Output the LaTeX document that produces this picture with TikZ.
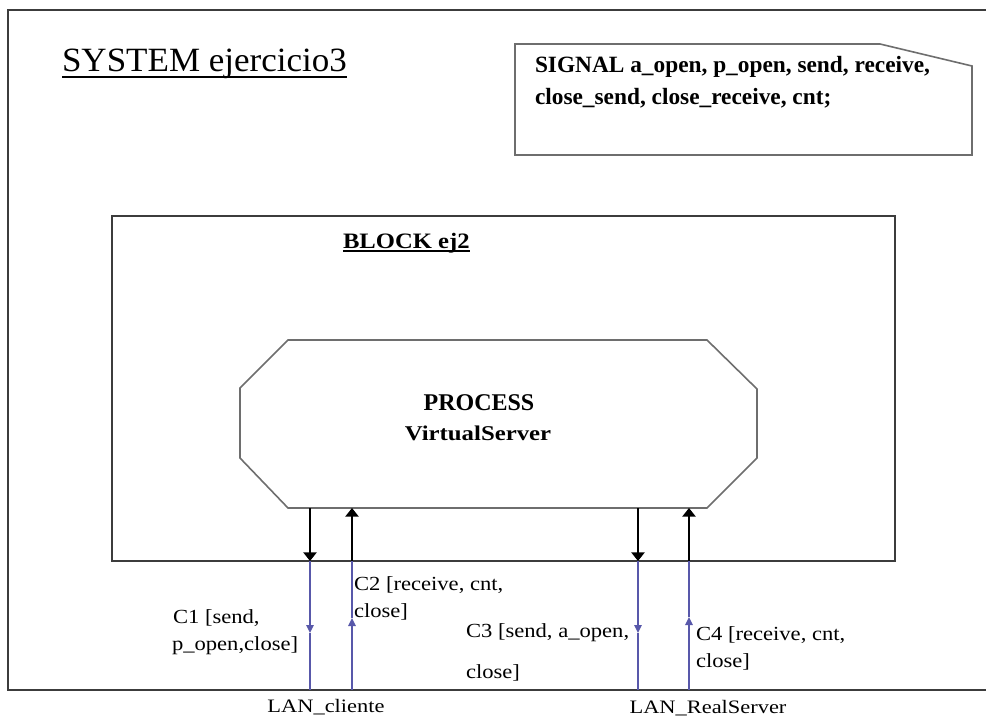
\documentclass[tikz,border=0pt]{standalone}
\usepackage{fontspec}
\setmainfont{Liberation Serif}
\newfontfamily\sysfont[FakeStretch=1.03]{Liberation Serif}
\newfontfamily\lblfont[FakeStretch=1.13]{Liberation Serif}
\newfontfamily\lanfont[FakeStretch=1.18]{Liberation Serif}
\newfontfamily\blkfont[FakeStretch=1.12]{Liberation Serif}
\newfontfamily\vsfont[FakeStretch=1.18]{Liberation Serif}
\usetikzlibrary{arrows.meta,calc}
\definecolor{chblue}{RGB}{88,88,170}
\definecolor{framegray}{RGB}{60,60,60}
\definecolor{shapegray}{RGB}{110,110,110}
\tikzset{
  frame/.style={draw=framegray, line width=1.4pt},
  shapeline/.style={draw=shapegray, line width=1.2pt, line join=miter},
  txt/.style={anchor=base west, inner sep=0pt, outer sep=0pt},
  ctxt/.style={anchor=base, inner sep=0pt, outer sep=0pt},
  lbl/.style={txt, font=\lblfont\fontsize{15pt}{18pt}\selectfont},
  lan/.style={ctxt, font=\lanfont\fontsize{14.25pt}{17pt}\selectfont},
  sig/.style={txt, font=\bfseries\fontsize{17.5pt}{20pt}\selectfont},
  inner/.style={draw=black, line width=1.1pt},
  outer/.style={draw=chblue, line width=1.5pt},
  bigtip/.style={-{Triangle[length=6.5pt,width=10pt]}},
  smalltip/.style={-{Triangle[length=6pt,width=5.5pt]}}
}
\begin{document}
\begin{tikzpicture}[x=0.75pt,y=-0.75pt]
\useasboundingbox (0,0) rectangle (986,717);
\fill[white] (0,0) rectangle (986,717);

% system frame (right side runs off the picture)
\coordinate (sysTR) at (990,10);
\coordinate (sysTL) at (8,10);
\coordinate (sysBL) at (8,690);
\coordinate (sysBR) at (990,690);
\draw[frame] (sysTR) -- (sysTL) -- (sysBL) -- (sysBR);

% title
\node[txt, font=\sysfont\fontsize{25.5pt}{30pt}\selectfont] (sys) at (62,72) {SYSTEM ejercicio3};
\draw[line width=1pt] ($(sys.base west)+(0,5)$) -- ($(sys.base east)+(0,5)$);

% signal comment box
\coordinate (sg1) at (515,44);
\coordinate (sg2) at (880,44);
\coordinate (sg3) at (972,66);
\coordinate (sg4) at (972,155);
\coordinate (sg5) at (515,155);
\draw[shapeline] (sg1) -- (sg2) -- (sg3) -- (sg4) -- (sg5) -- cycle;
\node[sig] (sigA) at (535,73) {SIGNAL a\_open, p\_open, send, receive,};
\node[sig] (sigB) at (535,104) {close\_send, close\_receive, cnt;};

% block
\coordinate (blkTL) at (112,216);
\coordinate (blkBR) at (895,561);
\draw[frame] (blkTL) rectangle (blkBR);
\node[txt, font=\blkfont\bfseries\fontsize{16.5pt}{20pt}\selectfont] (blk) at (343,248) {BLOCK ej2};
\draw[line width=1pt] ($(blk.base west)+(0,3)$) -- ($(blk.base east)+(0,3)$);

% process octagon
\coordinate (o1) at (288,340);
\coordinate (o2) at (707,340);
\coordinate (o3) at (757,389);
\coordinate (o4) at (757,458);
\coordinate (o5) at (707,508);
\coordinate (o6) at (288,508);
\coordinate (o7) at (240,458);
\coordinate (o8) at (240,388);
\draw[shapeline] (o1) -- (o2) -- (o3) -- (o4) -- (o5) -- (o6) -- (o7) -- (o8) -- cycle;
\node[ctxt, font=\bfseries\fontsize{18pt}{21pt}\selectfont] (p1) at (479,410) {PROCESS};
\node[ctxt, font=\vsfont\bfseries\fontsize{15.75pt}{19pt}\selectfont] (p2) at (478,440) {VirtualServer};

% channel C1 (down)
\coordinate (c1a) at (310,508);
\coordinate (c1b) at (310,561);
\coordinate (c1m) at (310,633);
\coordinate (c1c) at (310,690);
\draw[inner, bigtip] (c1a) -- (c1b);
\draw[outer, smalltip] (c1b) -- (c1m);
\draw[outer] (c1m) -- (c1c);

% channel C2 (up)
\coordinate (c2a) at (352,508);
\coordinate (c2b) at (352,561);
\coordinate (c2m) at (352,618);
\coordinate (c2c) at (352,690);
\draw[outer, smalltip] (c2c) -- (c2m);
\draw[outer] (c2m) -- (c2b);
\draw[inner, bigtip] (c2b) -- (c2a);

% channel C3 (down)
\coordinate (c3a) at (638,508);
\coordinate (c3b) at (638,561);
\coordinate (c3m) at (638,633);
\coordinate (c3c) at (638,690);
\draw[inner, bigtip] (c3a) -- (c3b);
\draw[outer, smalltip] (c3b) -- (c3m);
\draw[outer] (c3m) -- (c3c);

% channel C4 (up)
\coordinate (c4a) at (689,508);
\coordinate (c4b) at (689,561);
\coordinate (c4m) at (689,617);
\coordinate (c4c) at (689,690);
\draw[outer, smalltip] (c4c) -- (c4m);
\draw[outer] (c4m) -- (c4b);
\draw[inner, bigtip] (c4b) -- (c4a);

% channel labels
\node[lbl] (l1a) at (173,623) {C1 [send,};
\node[lbl] (l1b) at (172,650) {p\_open,close]};
\node[lbl] (l2a) at (354,590) {C2 [receive, cnt,};
\node[lbl] (l2b) at (354,617) {close]};
\node[lbl] (l3a) at (466,637) {C3 [send, a\_open,};
\node[lbl] (l3b) at (466,678) {close]};
\node[lbl] (l4a) at (696,640) {C4 [receive, cnt,};
\node[lbl] (l4b) at (696,667) {close]};

% environment names
\node[lan] (lanc) at (326,712) {LAN\_cliente};
\node[lan] (lanr) at (708,713) {LAN\_RealServer};
\end{tikzpicture}
\end{document}
